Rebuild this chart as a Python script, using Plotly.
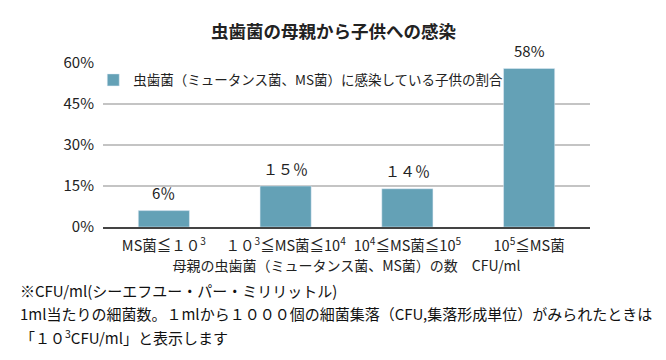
import plotly.graph_objects as go

categories = ["MS菌≦１０<sup>3</sup>", "１０<sup>3</sup>≦MS菌≦10<sup>4</sup>", "10<sup>4</sup>≦MS菌≦10<sup>5</sup>", "10<sup>5</sup>≦MS菌"]
values = [6, 15, 14, 58]
value_labels = ["6％", "１５％", "１４％", "58%"]
tick_vals = [0, 15, 30, 45, 60]
tick_text = ["0%", "15%", "30%", "45%", "60%"]
series_name = "虫歯菌（ミュータンス菌、MS菌）に感染している子供の割合"
title_text = "虫歯菌の母親から子供への感染"
x_title = "母親の虫歯菌（ミュータンス菌、MS菌）の数　CFU/ml"
notes = [
    "※CFU/ml(シーエフユー・パー・ミリリットル)",
    "1ml当たりの細菌数。１mlから１０００個の細菌集落（CFU,集落形成単位）がみられたときは",
    "「１０<sup>3</sup>CFU/ml」と表示します",
]

W, H = 666, 360
L, R, T, B = 103, 76, 63, 133
ph = H - T - B

fig = go.Figure()
fig.add_trace(go.Bar(
    x=categories, y=values, name=series_name,
    marker_color="#64a1b6", cliponaxis=False,
    showlegend=True, width=0.42,
))

def py(pix):
    return (H - B - pix) / ph

annotations = []
for c, v, lab in zip(categories, values, value_labels):
    annotations.append(dict(x=c, y=v, xref="x", yref="y", text=lab, showarrow=False,
                            yanchor="middle", yshift=18,
                            font=dict(size=15, color="#222")))
annotations.append(dict(text="<b>" + title_text + "</b>", xref="paper", yref="paper",
                        x=(333 - L) / (W - L - R), xanchor="center",
                        y=py(30), yanchor="middle", showarrow=False,
                        font=dict(size=17.5, color="#222", family="Noto Sans CJK JP")))
for t, yp in zip(notes, [290, 313, 337]):
    annotations.append(dict(text=t, xref="paper", yref="paper", x=(18 - L) / (W - L - R), xanchor="left",
                            y=py(yp), yanchor="middle", showarrow=False,
                            font=dict(size=15, color="#111", family="Noto Sans CJK JP")))

fig.update_layout(
    width=W, height=H, margin=dict(l=L, r=R, t=T, b=B),
    paper_bgcolor="white", plot_bgcolor="white",
    font=dict(family="Noto Sans CJK JP, sans-serif", size=14, color="#222"),
    bargap=0.6,
    legend=dict(x=-0.02, y=0.99, xanchor="left", yanchor="top", bgcolor="rgba(255,255,255,0)",
                font=dict(size=13.5), itemwidth=30),
    annotations=annotations,
    xaxis=dict(showgrid=False, showline=True, linecolor="#444", linewidth=2,
               ticks="", tickfont=dict(size=14.5), ticklabelstandoff=5,
               title=dict(text=x_title, font=dict(size=14), standoff=1)),
    yaxis=dict(range=[0, 60], tickvals=tick_vals, ticktext=tick_text, showgrid=True,
               gridcolor="#c4c4c4", gridwidth=2, zeroline=False, ticks="",
               tickfont=dict(size=15), ticklabelstandoff=8),
)

fig.write_html("out.html", config={"displayModeBar": False},
               post_script="document.body.style.margin='0';")
